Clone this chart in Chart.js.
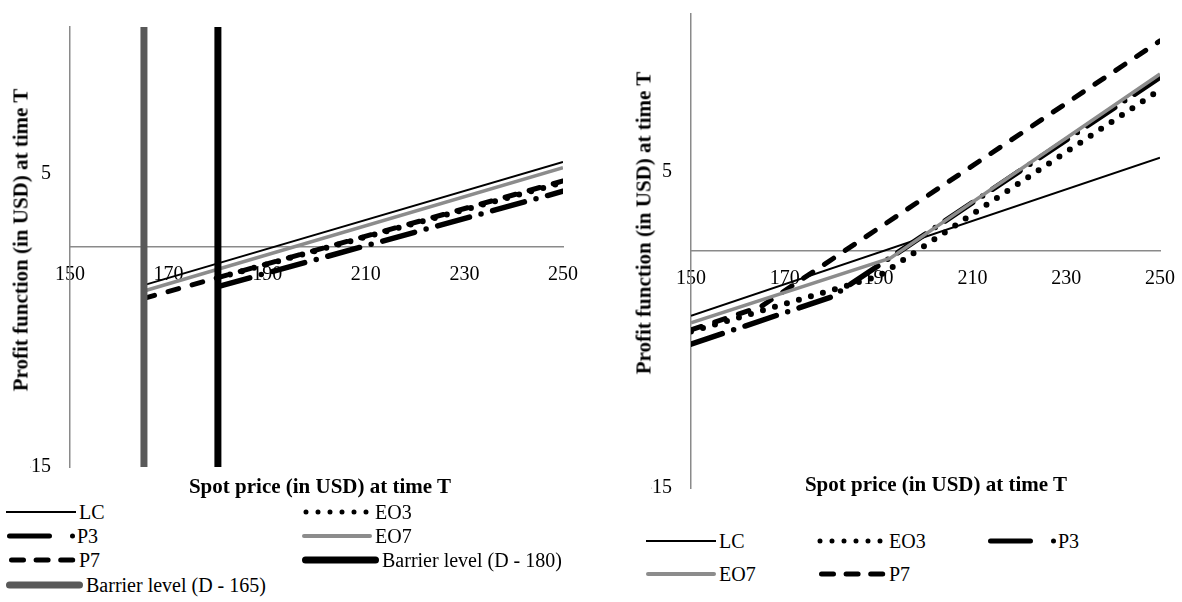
<!DOCTYPE html>
<html>
<head>
<meta charset="utf-8">
<script src="https://cdn.jsdelivr.net/npm/chart.js@4.4.1/dist/chart.umd.min.js"></script>
<style>
  body { margin: 0; background: #fff; }
  #page { position: relative; width: 1182px; height: 602px; overflow: hidden;
          font-family: "Liberation Serif", "Times New Roman", serif; color: #000; }
  canvas { position: absolute; top: 0; }
  .ytitle, .xtitle { position: absolute; font-weight: bold; font-size: 21px; white-space: nowrap;
                     font-family: "Liberation Serif", "Times New Roman", serif; }
  .ytitle { transform: translate(-50%, -50%) rotate(-90deg); }
  .xtitle { transform: translate(-50%, -50%); }
  .item { position: absolute; height: 24px; line-height: 24px; font-size: 20px; white-space: nowrap;
          font-family: "Liberation Serif", "Times New Roman", serif;
          display: flex; align-items: center; transform: translateY(-50%); }
  .item svg { display: block; }
</style>
</head>
<body>
<div id="page">
  <canvas id="leftChart" width="591" height="500" style="left:0"></canvas>
  <canvas id="rightChart" width="591" height="500" style="left:591px"></canvas>
  <div class="ytitle" style="left:21px; top:240px">Profit function (in USD) at time T</div>
  <div class="ytitle" style="left:644px; top:223px">Profit function (in USD) at time T</div>
  <div class="xtitle" style="left:320px; top:486px">Spot price (in USD) at time T</div>
  <div class="xtitle" style="left:936px; top:484px">Spot price (in USD) at time T</div>
  <div id="legend"></div>
</div>
<script>
const spotTicks = [150, 170, 190, 210, 230, 250];
const profitTicks = [-15, 5];
const profitRange = [-15, 15];

// left panel: options with barrier levels
const barrierLevels = [180, 165];
const leftLcSpot = [165, 250];
const leftLcProfit = [-2.6, 5.8];
const leftEo3Spot = [180, 250];
const leftEo3Profit = [-2.1, 4.4];
const leftP3Spot = [180, 250];
const leftP3Profit = [-2.7, 3.8];
const leftEo7Spot = [165, 250];
const leftEo7Profit = [-3.0, 5.4];
const leftP7Spot = [165, 250];
const leftP7Profit = [-3.5, 4.5];

// right panel: no barriers
const rightLcSpot = [150, 250];
const rightLcProfit = [-4.1, 5.9];
const rightEo3Spot = [150, 190, 250];
const rightEo3Profit = [-5.1, -1.6, 10.2];
const rightP3Spot = [150, 180, 250];
const rightP3Profit = [-5.9, -2.9, 11.0];
const rightEo7Spot = [150, 192.5, 250];
const rightEo7Profit = [-4.55, -0.45, 11.2];
const rightP7Spot = [150, 165, 250];
const rightP7Profit = [-5.0, -3.5, 13.3];

const FONT = '"Liberation Serif", "Times New Roman", serif';
const GRAY_AXIS = '#8a8a8a';

const styles = {
    LC:   { borderColor: '#000', borderWidth: 2, order: 3 },
    EO3:  { borderColor: '#000', borderWidth: 6, borderDash: [0, 12.5], borderCapStyle: 'round', order: 4 },
    P3:   { borderColor: '#000', borderWidth: 5.5, borderDash: [33, 12, 0, 12], borderCapStyle: 'round', order: 6 },
    EO7:  { borderColor: '#8c8c8c', borderWidth: 3.5, order: 2 },
    P7:   { borderColor: '#000', borderWidth: 5, borderDash: [11, 14], borderCapStyle: 'round', order: 5 },
    B180: { borderColor: '#000', borderWidth: 7, order: 0 },
    B165: { borderColor: '#595959', borderWidth: 7, order: 1 },
};

const points = (spots, profits) => spots.map((s, i) => ({ x: s, y: profits[i] }));

const makeDataset = (label, key, data) => ({
    label: label,
    data: data,
    pointRadius: 0,
    tension: 0,
    fill: false,
    ...styles[key]
});

const tickFont = { family: FONT, size: 20 };

const makeScales = (yWidth) => ({
    x: {
        type: 'linear',
        position: { y: 0 },
        min: spotTicks[0],
        max: spotTicks[spotTicks.length - 1],
        afterBuildTicks: (axis) => { axis.ticks = spotTicks.map(v => ({ value: v })); },
        grid: { display: false, drawTicks: true, tickLength: 13 },
        border: { display: true, color: GRAY_AXIS, width: 1.5 },
        ticks: { color: '#000', font: tickFont, maxRotation: 0, autoSkip: false, callback: v => String(v) }
    },
    y: {
        type: 'linear',
        position: 'left',
        min: profitRange[0],
        max: profitRange[1],
        afterBuildTicks: (axis) => { axis.ticks = profitTicks.map(v => ({ value: v })); },
        afterFit: (axis) => { axis.width = yWidth; },
        // tick marks hidden; tickLength only pushes the labels off the axis
        grid: { display: false, drawTicks: true, tickLength: 19 },
        border: { display: true, color: GRAY_AXIS, width: 1.5 },
        ticks: { color: '#000', font: tickFont, padding: 0, callback: v => String(v) }
    }
});

const baseOptions = (padding) => ({
    responsive: false,
    animation: false,
    events: [],
    layout: { padding: padding },
    plugins: { legend: { display: false }, tooltip: { enabled: false } },
    scales: makeScales(40)
});

new Chart(document.getElementById('leftChart'), {
    type: 'line',
    data: {
        datasets: [
            makeDataset('Barrier level (D - 180)', 'B180', points([barrierLevels[0], barrierLevels[0]], profitRange)),
            makeDataset('Barrier level (D - 165)', 'B165', points([barrierLevels[1], barrierLevels[1]], profitRange)),
            makeDataset('EO7', 'EO7', points(leftEo7Spot, leftEo7Profit)),
            makeDataset('LC', 'LC', points(leftLcSpot, leftLcProfit)),
            makeDataset('EO3', 'EO3', points(leftEo3Spot, leftEo3Profit)),
            makeDataset('P7', 'P7', points(leftP7Spot, leftP7Profit)),
            makeDataset('P3', 'P3', points(leftP3Spot, leftP3Profit)),
        ]
    },
    options: baseOptions({ left: 30, right: 28, top: 27, bottom: 33 })
});

new Chart(document.getElementById('rightChart'), {
    type: 'line',
    data: {
        datasets: [
            makeDataset('EO7', 'EO7', points(rightEo7Spot, rightEo7Profit)),
            makeDataset('LC', 'LC', points(rightLcSpot, rightLcProfit)),
            makeDataset('EO3', 'EO3', points(rightEo3Spot, rightEo3Profit)),
            makeDataset('P7', 'P7', points(rightP7Spot, rightP7Profit)),
            makeDataset('P3', 'P3', points(rightP3Spot, rightP3Profit)),
        ]
    },
    options: baseOptions({ left: 60, right: 22, top: 14, bottom: 12 })
});

// legend swatches, drawn as small svg lines
const swatch = (key) => {
    const line = (x1, x2, color, w, extra) =>
        `<line x1="${x1}" y1="12" x2="${x2}" y2="12" stroke="${color}" stroke-width="${w}" ${extra || ''}/>`;
    let inner;
    let width = 70;
    if (key === 'LC') inner = line(0, 70, '#000', 2);
    if (key === 'EO3') inner = line(4, 70, '#000', 5, 'stroke-linecap="round" stroke-dasharray="0 12"');
    if (key === 'P3') inner = line(3.5, 70, '#000', 5, 'stroke-linecap="round" stroke-dasharray="40 23 0 100"');
    if (key === 'P7') inner = line(5.5, 70, '#000', 5, 'stroke-linecap="round" stroke-dasharray="12 12.6"');
    if (key === 'EO7') inner = line(2, 68, '#8c8c8c', 4, 'stroke-linecap="round"');
    if (key === 'B180' || key === 'B165') {
        width = 77;
        inner = line(3.5, 73.5, key === 'B180' ? '#000' : '#595959', 7, 'stroke-linecap="round"');
    }
    return `<svg width="${width}" height="24">${inner}</svg>`;
};

const legendItems = [
    ['LC', 'LC', 6, 512], ['EO3', 'EO3', 302, 512],
    ['P3', 'P3', 6, 536], ['EO7', 'EO7', 302, 536],
    ['P7', 'P7', 6, 560], ['Barrier level (D - 180)', 'B180', 302, 560],
    ['Barrier level (D - 165)', 'B165', 6, 585],
    ['LC', 'LC', 646, 541], ['EO3', 'EO3', 816, 541], ['P3', 'P3', 987, 541],
    ['EO7', 'EO7', 646, 574], ['P7', 'P7', 816, 574],
];

const legend = document.getElementById('legend');
legendItems.forEach(([text, key, x, y]) => {
    const div = document.createElement('div');
    div.className = 'item';
    div.style.left = x + 'px';
    div.style.top = y + 'px';
    div.innerHTML = swatch(key) + `<span style="margin-left:${key === 'P3' ? 1 : 3}px">${text}</span>`;
    legend.appendChild(div);
});
</script>
</body>
</html>
